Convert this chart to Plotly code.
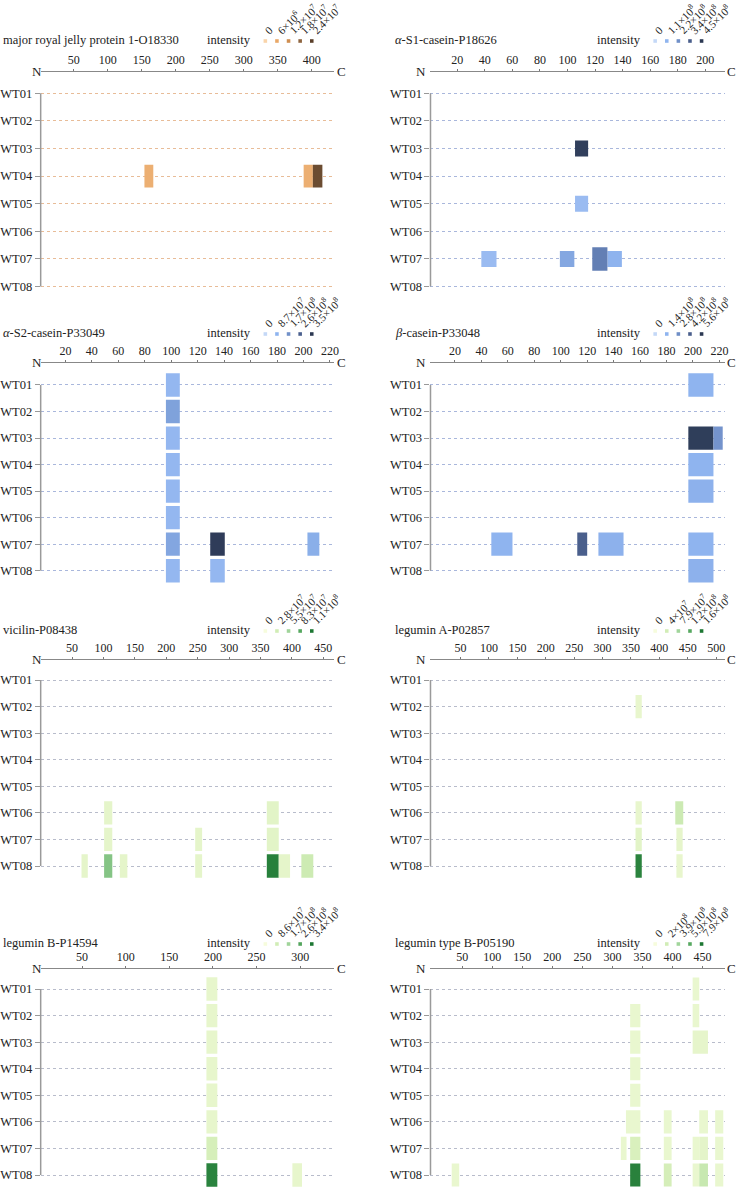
import plotly.graph_objects as go
from plotly.colors import sample_colorscale

W, H = 741, 1187
ROWS = ["WT01", "WT02", "WT03", "WT04", "WT05", "WT06", "WT07", "WT08"]

titles = [
    "major royal jelly protein 1-O18330",
    "<i>α</i>-S1-casein-P18626",
    "<i>α</i>-S2-casein-P33049",
    "<i>β</i>-casein-P33048",
    "vicilin-P08438",
    "legumin A-P02857",
    "legumin B-P14594",
    "legumin type B-P05190",
]

legend_values = [
    [0, 6e6, 1.2e7, 1.8e7, 2.4e7],
    [0, 1.1e8, 2.2e8, 3.4e8, 4.5e8],
    [0, 8.7e7, 1.7e8, 2.6e8, 3.5e8],
    [0, 1.4e8, 2.8e8, 4.2e8, 5.6e8],
    [0, 2.8e7, 5.5e7, 8.3e7, 1.1e8],
    [0, 4e7, 7.9e7, 1.2e8, 1.6e8],
    [0, 8.6e7, 1.7e8, 2.6e8, 3.4e8],
    [0, 2e8, 3.9e8, 5.9e8, 7.9e8],
]
legend_labels = [
    ["0", "6×10<sup>6</sup>", "1.2×10<sup>7</sup>", "1.8×10<sup>7</sup>", "2.4×10<sup>7</sup>"],
    ["0", "1.1×10<sup>8</sup>", "2.2×10<sup>8</sup>", "3.4×10<sup>8</sup>", "4.5×10<sup>8</sup>"],
    ["0", "8.7×10<sup>7</sup>", "1.7×10<sup>8</sup>", "2.6×10<sup>8</sup>", "3.5×10<sup>8</sup>"],
    ["0", "1.4×10<sup>8</sup>", "2.8×10<sup>8</sup>", "4.2×10<sup>8</sup>", "5.6×10<sup>8</sup>"],
    ["0", "2.8×10<sup>7</sup>", "5.5×10<sup>7</sup>", "8.3×10<sup>7</sup>", "1.1×10<sup>8</sup>"],
    ["0", "4×10<sup>7</sup>", "7.9×10<sup>7</sup>", "1.2×10<sup>8</sup>", "1.6×10<sup>8</sup>"],
    ["0", "8.6×10<sup>7</sup>", "1.7×10<sup>8</sup>", "2.6×10<sup>8</sup>", "3.4×10<sup>8</sup>"],
    ["0", "2×10<sup>8</sup>", "3.9×10<sup>8</sup>", "5.9×10<sup>8</sup>", "7.9×10<sup>8</sup>"],
]
tick_values = [
    [50, 100, 150, 200, 250, 300, 350, 400],
    [20, 40, 60, 80, 100, 120, 140, 160, 180, 200],
    [20, 40, 60, 80, 100, 120, 140, 160, 180, 200, 220],
    [20, 40, 60, 80, 100, 120, 140, 160, 180, 200, 220],
    [50, 100, 150, 200, 250, 300, 350, 400, 450],
    [50, 100, 150, 200, 250, 300, 350, 400, 450, 500],
    [50, 100, 150, 200, 250, 300],
    [50, 100, 150, 200, 250, 300, 350, 400, 450],
]
seq_ranges = [
    [1.5, 433], [0.6, 214.4], [1.3, 223.3], [1.5, 224.3],
    [0, 467.4], [-3, 515.7], [2.6, 339], [-2.8, 487.5],
]

# peptides: row, start residue, end residue, intensity
p1_row = ["WT04", "WT04", "WT04"]
p1_start = [154, 388, 401.5]
p1_end = [167, 401.5, 415.5]
p1_int = [5e6, 5e6, 2.2e7]

p2_row = ["WT03", "WT05", "WT07", "WT07", "WT07", "WT07"]
p2_start = [105.5, 105.5, 37.5, 94.5, 129, 118]
p2_end = [115, 115, 48.5, 105, 139.5, 129]
p2_int = [4.3e8, 0.9e8, 0.9e8, 1.5e8, 1.15e8, 2.6e8]

p3_row = ["WT01", "WT02", "WT03", "WT04", "WT05", "WT06", "WT07", "WT08", "WT07", "WT07", "WT08"]
p3_start = [96, 96, 96, 96, 96, 96, 96, 96, 129.5, 203, 129.5]
p3_end = [106.5, 106.5, 106.5, 106.5, 106.5, 106.5, 106.5, 106.5, 140.5, 212, 140.5]
p3_int = [8e7, 1.3e8, 8e7, 8e7, 8e7, 8e7, 1.2e8, 8e7, 3.4e8, 1.0e8, 8e7]

p4_row = ["WT01", "WT03", "WT03", "WT04", "WT05", "WT07", "WT07", "WT07", "WT07", "WT08"]
p4_start = [196.5, 196.5, 215.5, 196.5, 196.5, 47.5, 112.5, 128.5, 196.5, 196.5]
p4_end = [215.5, 215.5, 222.5, 215.5, 215.5, 63.5, 120, 147.5, 215.5, 215.5]
p4_int = [1.4e8, 5.4e8, 2.6e8, 1.4e8, 1.5e8, 1.4e8, 4.2e8, 1.5e8, 1.4e8, 1.5e8]

p5_row = ["WT06", "WT06", "WT07", "WT07", "WT07", "WT08", "WT08", "WT08", "WT08", "WT08", "WT08", "WT08"]
p5_start = [101, 360, 101, 246, 360, 65, 101, 126, 246, 360, 379, 415]
p5_end = [114, 379, 114, 257, 379, 75, 114, 138, 257, 379, 397, 434]
p5_int = [1.3e7, 1.5e7, 1.3e7, 1.3e7, 1.5e7, 1.3e7, 6.5e7, 1.3e7, 1.3e7, 1.05e8, 1.3e7, 3.0e7]

p6_row = ["WT02", "WT06", "WT06", "WT07", "WT07", "WT08", "WT08"]
p6_start = [358, 358, 428, 358, 430, 358, 430]
p6_end = [369, 369, 442, 369, 441, 369, 441]
p6_int = [1.6e7, 1.6e7, 4.5e7, 2.2e7, 1.8e7, 1.5e8, 1.6e7]

p7_row = ["WT01", "WT02", "WT03", "WT04", "WT05", "WT06", "WT07", "WT08", "WT08"]
p7_start = [192.5, 192.5, 192.5, 192.5, 192.5, 192.5, 192.5, 192.5, 291]
p7_end = [205, 205, 205, 205, 205, 205, 205, 205, 302]
p7_int = [3.5e7, 3.5e7, 3.5e7, 3.5e7, 3.5e7, 3.5e7, 7.5e7, 3.2e8, 3.5e7]

p8_row = ["WT01", "WT02", "WT02", "WT03", "WT03", "WT04", "WT05",
          "WT06", "WT06", "WT06", "WT06",
          "WT07", "WT07", "WT07", "WT07", "WT07", "WT07",
          "WT08", "WT08", "WT08", "WT08", "WT08", "WT08"]
p8_start = [433.5, 329.5, 433.5, 329.5, 433.5, 329.5, 329.5,
            322.5, 385.5, 444.5, 471,
            314, 329.5, 385.5, 433.5, 444.5, 471,
            32.5, 329.5, 385.5, 433.5, 444.5, 471]
p8_end = [444.5, 346.5, 444.5, 346.5, 459, 346.5, 346.5,
          346.5, 398.5, 459, 484.5,
          323.5, 346.5, 398.5, 444.5, 459, 484.5,
          45, 346.5, 398.5, 444.5, 459, 484.5]
p8_int = [0.7e8, 0.7e8, 0.7e8, 0.7e8, 0.9e8, 0.7e8, 0.7e8,
          0.7e8, 0.7e8, 0.7e8, 0.7e8,
          0.7e8, 1.6e8, 0.7e8, 0.7e8, 1.0e8, 0.7e8,
          0.7e8, 7.5e8, 1.8e8, 0.7e8, 2.4e8, 0.7e8]

peptides = [
    (p1_row, p1_start, p1_end, p1_int),
    (p2_row, p2_start, p2_end, p2_int),
    (p3_row, p3_start, p3_end, p3_int),
    (p4_row, p4_start, p4_end, p4_int),
    (p5_row, p5_start, p5_end, p5_int),
    (p6_row, p6_start, p6_end, p6_int),
    (p7_row, p7_start, p7_end, p7_int),
    (p8_row, p8_start, p8_end, p8_int),
]

# ---------- styles / layout geometry (pixels) ----------
ORANGE = [[0, "#f9d4aa"], [0.25, "#e9a867"], [0.5, "#cf8e51"], [0.75, "#8e6540"], [1, "#5a3f2a"]]
BLUE = [[0, "#c4d8f7"], [0.25, "#8fb4ef"], [0.5, "#6f8ec6"], [0.75, "#4a5f8c"], [1, "#2b3852"]]
GREEN = [[0, "#f6fcdc"], [0.25, "#d2edb6"], [0.5, "#a0d49a"], [0.75, "#56a860"], [1, "#1d7733"]]
scales = [ORANGE, BLUE, BLUE, BLUE, GREEN, GREEN, GREEN, GREEN]
grid_colors = ["#e8bc98", "#a9b7dc", "#a9b7dc", "#a9b7dc", "#b8bccb", "#b8bccb", "#b8bccb", "#b8bccb"]
bar_thickness = [0.83, 0.58, 0.88, 0.88, 0.88, 0.88, 0.88, 0.87]
thick_override = {(1, 5): 0.85}

col_x = [(40, 336), (433, 730)]
# (title_y, axis_y, first_row_y, last_row_y) per grid row
row_geom = [
    (40, 71, 93.3, 286.5),
    (333, 362, 385, 570.7),
    (630, 659, 680, 866),
    (943, 968, 989, 1175),
]
legend_x0 = [266.5, 659.5]
legend_dx = 11.7
title_x = [1, 396]
n_x = [36, 423]
c_x = [343, 736]

FONT = "Liberation Serif"

fig = go.Figure()
layout = dict(
    width=W, height=H, margin=dict(l=0, r=0, t=0, b=0),
    paper_bgcolor="white", plot_bgcolor="white",
    barmode="overlay", showlegend=False,
    font=dict(family=FONT, size=12, color="#222"),
)
annotations = []
shapes = []

for i in range(8):
    col = i % 2
    gr = i // 2
    ty, ay, r1, r8 = row_geom[gr]
    x0, x1 = col_x[col]
    sp = (r8 - r1) / 7
    ytop = r1 - 0.5 * sp
    ybot = min(r8 + 0.5 * sp, H)
    xa = "xaxis" if i == 0 else f"xaxis{i+1}"
    ya = "yaxis" if i == 0 else f"yaxis{i+1}"
    xr = "x" if i == 0 else f"x{i+1}"
    yr = "y" if i == 0 else f"y{i+1}"

    layout[xa] = dict(
        domain=[x0 / W, x1 / W], range=seq_ranges[i], side="top",
        anchor="free", position=1 - ay / H,
        tickvals=tick_values[i], ticks="outside", ticklen=2, tickcolor="#777",
        showline=True, linecolor="#888", linewidth=1,
        showgrid=False, zeroline=False, tickfont=dict(size=12, family=FONT, color="#222"),
    )
    layout[ya] = dict(
        domain=[max(0.0, 1 - ybot / H), 1 - ytop / H], type="category",
        categoryorder="array", categoryarray=ROWS,
        range=[7 + (ybot - r8) / sp, -(r1 - ytop) / sp],
        anchor=xr, showgrid=True, gridcolor=grid_colors[i], griddash="dot", gridwidth=1,
        showline=False, zeroline=False, ticks="outside", ticklen=5, tickcolor="#999",
        tickfont=dict(size=12.5, family=FONT, color="#222"),
    )
    shapes.append(dict(type="line", xref=f"{xr} domain", x0=0, x1=0, yref=yr,
                       y0=ROWS[0], y1=ROWS[-1], line=dict(color="#9a9a9a", width=1.5), layer="above"))

    rws, st, en, it = peptides[i]
    cmax = legend_values[i][-1]
    widths = [thick_override.get((i, k), bar_thickness[i]) for k in range(len(rws))]
    fig.add_trace(go.Bar(
        orientation="h", y=rws, base=st, x=[e - s for s, e in zip(st, en)],
        width=widths,
        marker=dict(color=it, colorscale=scales[i], cmin=0, cmax=cmax, line=dict(width=0)),
        opacity=1, xaxis=xr, yaxis=yr, hoverinfo="skip",
    ))

    annotations.append(dict(text=titles[i], xref="paper", yref="paper", x=title_x[col] / W,
                            y=1 - ty / H, xanchor="left", yanchor="middle", align="left",
                            showarrow=False, borderpad=0,
                            font=dict(size=12.5, family=FONT, color="#222")))
    lx0 = legend_x0[col]
    annotations.append(dict(text="intensity", xref="paper", yref="paper", x=(lx0 - 13) / W,
                            y=1 - ty / H, xanchor="right", yanchor="middle", align="right",
                            showarrow=False, borderpad=0,
                            font=dict(size=12.5, family=FONT, color="#222")))
    dot_colors = sample_colorscale(scales[i], [v / cmax for v in legend_values[i]])
    for k, (lab, dc) in enumerate(zip(legend_labels[i], dot_colors)):
        dx = lx0 + k * legend_dx
        dy = ty + 1
        shapes.append(dict(type="rect", xref="paper", yref="paper",
                           x0=(dx - 1.8) / W, x1=(dx + 1.8) / W,
                           y0=1 - (dy + 1.8) / H, y1=1 - (dy - 1.8) / H,
                           fillcolor=dc, line=dict(width=0)))
        annotations.append(dict(text=lab, xref="paper", yref="paper", x=(dx - 4) / W,
                                y=1 - (dy - 3) / H, xanchor="left", yanchor="bottom",
                                align="left", borderpad=0,
                                textangle=-45, showarrow=False,
                                font=dict(size=11, family=FONT, color="#222")))
    annotations.append(dict(text="N", xref="paper", yref="paper", x=n_x[col] / W, y=1 - ay / H,
                            xanchor="center", yanchor="middle", showarrow=False,
                            font=dict(size=13, family=FONT, color="#222")))
    annotations.append(dict(text="C", xref="paper", yref="paper", x=c_x[col] / W, y=1 - ay / H,
                            xanchor="center", yanchor="middle", showarrow=False,
                            font=dict(size=13, family=FONT, color="#222")))

layout["annotations"] = annotations
layout["shapes"] = shapes
fig.update_layout(**layout)
fig.write_html("out.html", config={"displayModeBar": False},
               post_script="document.body.style.margin='0';document.body.style.overflow='hidden';")
